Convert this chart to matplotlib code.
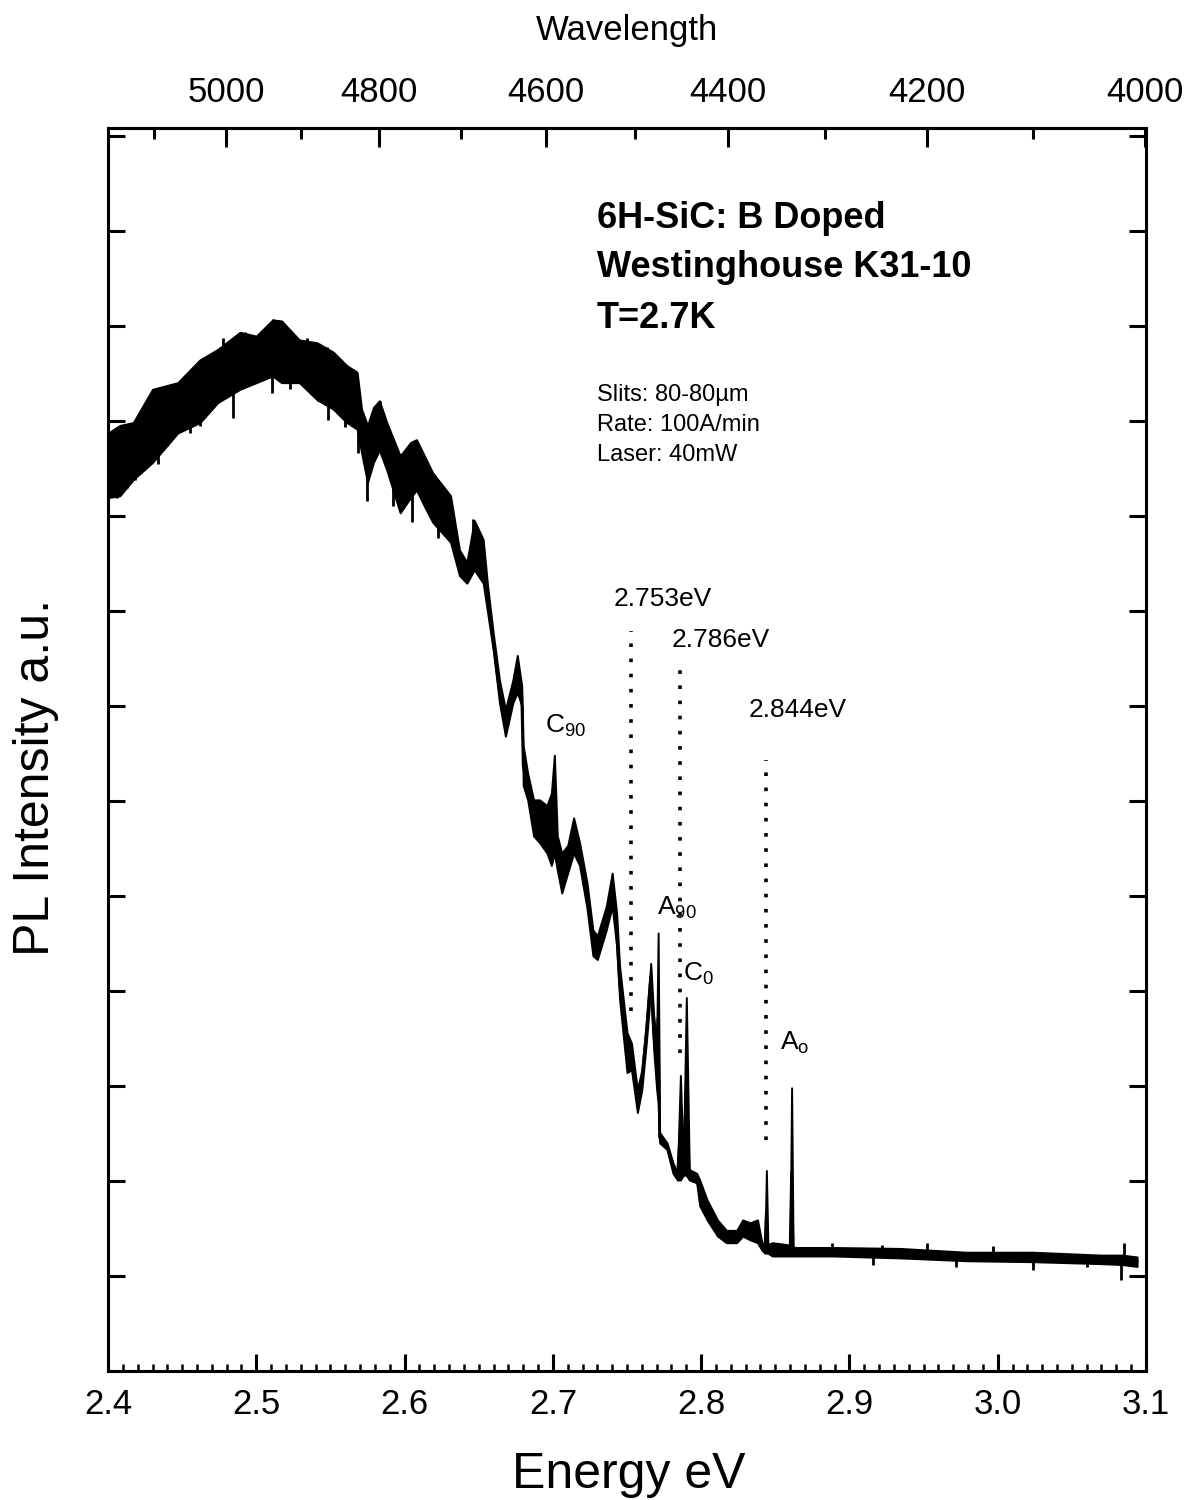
"""
PL spectrum of B-doped 6H-SiC (Westinghouse K31-10) at 2.7 K.
"""

import matplotlib
matplotlib.use("Agg")
import matplotlib.pyplot as plt
from matplotlib.ticker import MultipleLocator, FixedLocator, NullFormatter
import numpy as np

plt.rcParams['font.family'] = ['Liberation Sans', 'DejaVu Sans']
plt.rcParams['mathtext.fontset'] = 'custom'
plt.rcParams['mathtext.rm'] = 'Liberation Sans'
plt.rcParams['mathtext.it'] = 'Liberation Sans'

# photon energy (eV) and noisy-band envelope of the PL trace (a.u.)
energy = [2.400, 2.408, 2.417, 2.430, 2.447, 2.462, 2.474, 2.489, 2.500, 2.511,
          2.517, 2.529, 2.541, 2.552, 2.561, 2.568, 2.571, 2.575, 2.579, 2.583,
          2.588, 2.597, 2.604, 2.608, 2.614, 2.619, 2.631, 2.637, 2.642, 2.647,
          2.653, 2.656, 2.660, 2.664, 2.668, 2.673, 2.676, 2.679, 2.680, 2.683,
          2.687, 2.691, 2.696, 2.699, 2.701, 2.703, 2.706, 2.710, 2.714, 2.718,
          2.723, 2.727, 2.730, 2.736, 2.740, 2.743, 2.745, 2.750, 2.753, 2.757,
          2.760, 2.763, 2.766, 2.768, 2.770, 2.771, 2.772, 2.777, 2.781, 2.784,
          2.786, 2.788, 2.790, 2.792, 2.797, 2.799, 2.804, 2.811, 2.817, 2.824,
          2.828, 2.833, 2.838, 2.841, 2.843, 2.844, 2.845, 2.848, 2.858, 2.860,
          2.861, 2.862, 2.863, 2.889, 2.934, 2.979, 3.024, 3.069, 3.084, 3.094]
band_hi = [9.87, 9.95, 9.98, 10.33, 10.40, 10.64, 10.75, 10.93, 10.89, 11.06,
           11.05, 10.85, 10.82, 10.72, 10.58, 10.51, 10.12, 9.95, 10.14, 10.21,
           9.98, 9.63, 9.77, 9.80, 9.61, 9.45, 9.21, 8.64, 8.51, 8.95,
           8.75, 8.26, 7.74, 7.27, 6.96, 7.27, 7.53, 7.21, 6.58, 6.29,
           6.01, 6.01, 5.95, 6.08, 6.48, 5.63, 5.45, 5.53, 5.82, 5.56,
           5.14, 4.64, 4.58, 4.89, 5.24, 4.82, 4.26, 3.56, 3.45, 2.96,
           3.17, 3.66, 4.29, 3.74, 3.45, 4.61, 2.51, 2.40, 2.19, 2.08,
           3.11, 2.16, 3.93, 2.12, 2.08, 2.01, 1.80, 1.59, 1.48, 1.48,
           1.59, 1.56, 1.59, 1.35, 1.33, 2.11, 1.33, 1.35, 1.33, 1.31,
           2.98, 1.31, 1.30, 1.30, 1.29, 1.25, 1.25, 1.22, 1.22, 1.20]
band_lo = [9.19, 9.21, 9.38, 9.56, 9.87, 9.98, 10.19, 10.33, 10.40, 10.47,
           10.40, 10.40, 10.22, 10.12, 9.98, 9.91, 9.66, 9.35, 9.56, 9.69,
           9.48, 9.03, 9.19, 9.27, 9.08, 8.93, 8.72, 8.37, 8.29, 8.43,
           8.29, 7.98, 7.56, 7.03, 6.68, 7.03, 7.14, 7.00, 6.16, 6.01,
           5.63, 5.56, 5.45, 5.32, 5.45, 5.27, 5.03, 5.24, 5.45, 5.32,
           4.87, 4.37, 4.33, 4.64, 4.89, 4.47, 3.91, 3.14, 3.17, 2.72,
           2.96, 3.45, 4.01, 3.38, 2.96, 2.82, 2.40, 2.33, 2.08, 2.01,
           2.01, 2.06, 2.06, 2.01, 1.98, 1.74, 1.59, 1.42, 1.35, 1.35,
           1.42, 1.38, 1.35, 1.27, 1.24, 1.24, 1.24, 1.21, 1.21, 1.21,
           1.21, 1.21, 1.21, 1.21, 1.19, 1.16, 1.15, 1.13, 1.12, 1.10]

# isolated noise spikes (energy, tip value)
spike_energy = [2.4092, 2.4216, 2.4317, 2.4351, 2.4418, 2.4486, 2.4553, 2.4643,
                2.4722, 2.4778, 2.4890, 2.4924, 2.5003, 2.5115, 2.5171, 2.5340,
                2.5407, 2.5475, 2.5519, 2.5654, 2.5834, 2.6070, 2.6463,
                2.4059, 2.4126, 2.4182, 2.4339, 2.4396, 2.4553, 2.4620, 2.4845,
                2.5104, 2.5227, 2.5418, 2.5486, 2.5598, 2.5688, 2.5744, 2.5924,
                2.6048, 2.6227, 2.6362,
                2.888, 2.916, 2.922, 2.952, 2.972, 2.997, 3.024, 3.060,
                3.083, 3.085]
spike_tip = [9.93, 10.01, 10.33, 10.31, 10.38, 10.33, 10.52, 10.63,
             10.73, 10.87, 10.93, 10.93, 10.89, 11.07, 11.05, 10.87,
             10.80, 10.77, 10.70, 10.54, 10.21, 9.80, 8.96,
             9.19, 9.29, 9.38, 9.54, 9.73, 9.87, 9.94, 10.03,
             10.29, 10.33, 10.21, 10.01, 9.93, 9.66, 9.15, 9.10,
             8.93, 8.77, 8.52,
             1.35, 1.12, 1.33, 1.35, 1.09, 1.32, 1.06, 1.09,
             0.96, 1.35]

# marked line energies, dotted marker extents (a.u.)
line_energy = [2.753, 2.786, 2.844]
line_bottom = [3.79, 3.35, 2.43]
line_top = [7.79, 7.42, 6.43]
line_label_x = [2.774, 2.813, 2.865]
line_label_y = [8.12, 7.69, 6.96]

# peak labels
peak_names = [r'$\mathregular{C_{90}}$', r'$\mathregular{A_{90}}$',
              r'$\mathregular{C_{0}}$', r'$\mathregular{A_{o}}$']
peak_x = [2.6947, 2.7702, 2.7877, 2.8531]
peak_y = [6.72, 4.80, 4.11, 3.38]

wl_major = [5000, 4800, 4600, 4400, 4200, 4000]
wl_minor = [5100, 4900, 4700, 4500, 4300, 4100]
HC = 12398.4  # eV * Angstrom

fig = plt.figure(figsize=(11.91, 15), dpi=100)
ax = fig.add_axes([0.0907, 0.086, 0.8715, 0.8287])

E = np.array(energy)
mid = (np.array(band_lo) + np.array(band_hi)) / 2
ax.fill_between(E, band_lo, band_hi, color='black', lw=1.4)
ax.plot(E, mid, color='black', lw=2)

# noise spikes hang off the band centre
base = np.interp(spike_energy, E, mid)
ax.vlines(spike_energy, base, spike_tip, color='black', lw=2)

for e, y0, y1 in zip(line_energy, line_bottom, line_top):
    ax.plot([e, e], [y0, y1], color='black', lw=2.6, linestyle=(0, (1, 3.2)))
for e, lx, ly in zip(line_energy, line_label_x, line_label_y):
    ax.text(lx, ly, f"{e:.3f}eV", ha='center', va='center', fontsize=19)
for name, px, py in zip(peak_names, peak_x, peak_y):
    ax.text(px, py, name, ha='left', va='baseline', fontsize=19)

# sample info
ax.text(2.7297, 12.03, "6H-SiC: B Doped", fontsize=26, fontweight='bold', va='baseline')
ax.text(2.7297, 11.51, "Westinghouse K31-10", fontsize=26, fontweight='bold', va='baseline')
ax.text(2.7297, 10.98, "T=2.7K", fontsize=26, fontweight='bold', va='baseline')
ax.text(2.7297, 10.21, "Slits: 80-80\u00b5m", fontsize=17, va='baseline')
ax.text(2.7297, 9.89, "Rate: 100A/min", fontsize=17, va='baseline')
ax.text(2.7297, 9.58, "Laser: 40mW", fontsize=17, va='baseline')

ax.set_xlim(2.4, 3.1)
ax.set_ylim(0, 13.08)
ax.xaxis.set_major_locator(MultipleLocator(0.1))
ax.xaxis.set_minor_locator(MultipleLocator(0.01))
ax.xaxis.set_major_formatter(plt.FormatStrFormatter('%.1f'))
ax.yaxis.set_major_locator(MultipleLocator(1))
ax.yaxis.set_major_formatter(NullFormatter())
ax.tick_params(axis='x', which='major', direction='in', length=12, width=2.2,
               labelsize=25, pad=12, top=False)
ax.tick_params(axis='x', which='minor', direction='in', length=5, width=1.8, top=False)
ax.tick_params(axis='y', which='major', direction='in', length=12, width=2.2,
               left=True, right=True)
for s in ax.spines.values():
    s.set_linewidth(2.2)

top = ax.secondary_xaxis('top', functions=(lambda e: HC / e, lambda w: HC / w))
top.xaxis.set_major_locator(FixedLocator(wl_major))
top.xaxis.set_minor_locator(FixedLocator(wl_minor))
top.tick_params(which='major', direction='in', length=14, width=2.2, labelsize=25, pad=14)
top.tick_params(which='minor', direction='in', length=8, width=2.2)
top.spines['top'].set_linewidth(2.2)

fig.text(629 / 1191, 1 - 1488 / 1500, "Energy eV", fontsize=36, ha='center', va='baseline')
fig.text(36 / 1191, 1 - 777 / 1500, "PL Intensity a.u.", fontsize=36, rotation=90,
         ha='center', va='center')
fig.text(627 / 1191, 1 - 40 / 1500, "Wavelength", fontsize=25, ha='center', va='baseline')

fig.savefig("out.png", dpi=100)
